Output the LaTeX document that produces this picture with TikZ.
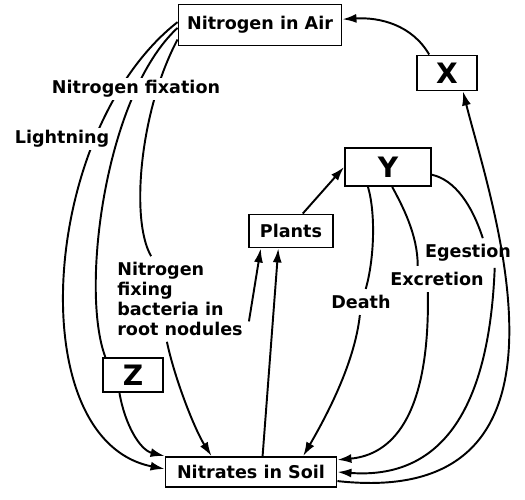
\documentclass[tikz,border=0pt]{standalone}
\usepackage{fontspec}
\setmainfont{DejaVu Sans}
\usetikzlibrary{arrows.meta}

\begin{document}
\begin{tikzpicture}[x=0.02cm, y=-0.02cm, line width=1.1pt,
    font=\fontsize{10}{11.3}\selectfont\bfseries,
    cbox/.style={draw, inner sep=2pt},
    big/.style={font=\fontsize{16}{18}\selectfont\bfseries},
    lbl/.style={inner sep=3pt, align=left},
    arr/.style={-{Latex[length=2.8mm, width=1.8mm]}}]
\useasboundingbox (0,0) rectangle (525,500);
% boxes
\node[cbox, minimum width=3.26cm, minimum height=0.82cm] (air) at (260,25) {Nitrogen in Air};
\node[cbox, big, minimum width=1.2cm, minimum height=0.7cm] (xbox) at (447,73) {X};
\node[cbox, big, minimum width=1.72cm, minimum height=0.76cm] (ybox) at (388,167) {Y};
\node[cbox, minimum width=1.68cm, minimum height=0.66cm] (plants) at (291,231) {Plants};
\node[cbox, big, minimum width=1.2cm, minimum height=0.68cm] (zbox) at (133,375) {Z};
\node[cbox, minimum width=3.42cm, minimum height=0.6cm] (soil) at (251,472) {Nitrates in Soil};
% labels on the way
\node[lbl] (bact) at (180,299) {Nitrogen\\fixing\\bacteria in\\root nodules};
\node[lbl] (death) at (361,302) {Death};
\node[lbl] (exc) at (437,279) {Excretion};
\node[lbl] (eg) at (468,253) {Egestion};

% fixation
\draw[arr] (air.178) .. controls (40,130) and (20,440) .. (soil.178);
\draw (air.182) .. controls (105,95) and (80,290) .. (zbox.147);
\draw (air.190) .. controls (140,110) and (130,220) .. (bact.124);
\draw[arr] (zbox.233) .. controls (125,425) and (140,450) .. (soil.north west);
\draw[arr] (bact.-107) .. controls (175,380) and (195,430) .. (soil.158);
\draw[arr] (bact.-18) -- (plants.210);
\draw[arr] (soil.54) -- (plants.234);
\draw[arr] (plants.56) -- (ybox.west);
% back to the soil
\draw (ybox.225) .. controls (376,215) and (374,260) .. (death.70);
\draw[arr] (death.-95) .. controls (355,360) and (330,410) .. (soil.17);
\draw (ybox.282) .. controls (402,205) and (418,235) .. (exc.146);
\draw[arr] (exc.-125) .. controls (430,420) and (390,455) .. (soil.8);
\draw (ybox.-10) .. controls (455,180) and (472,205) .. (eg.45);
\draw[arr] (eg.-29) .. controls (488,440) and (420,478) .. (soil.east);
% back to the air
\draw[arr] (soil.-6) .. controls (600,510) and (490,200) .. (xbox.-49);
\draw[arr] (xbox.134) .. controls (412,25) and (380,17) .. (air.4);

\node[lbl, inner sep=1.5pt, fill=white] (fix) at (136,89) {Nitrogen fixation};
\node[lbl, inner sep=1.5pt, fill=white] (light) at (62,139) {Lightning};
\end{tikzpicture}
\end{document}
